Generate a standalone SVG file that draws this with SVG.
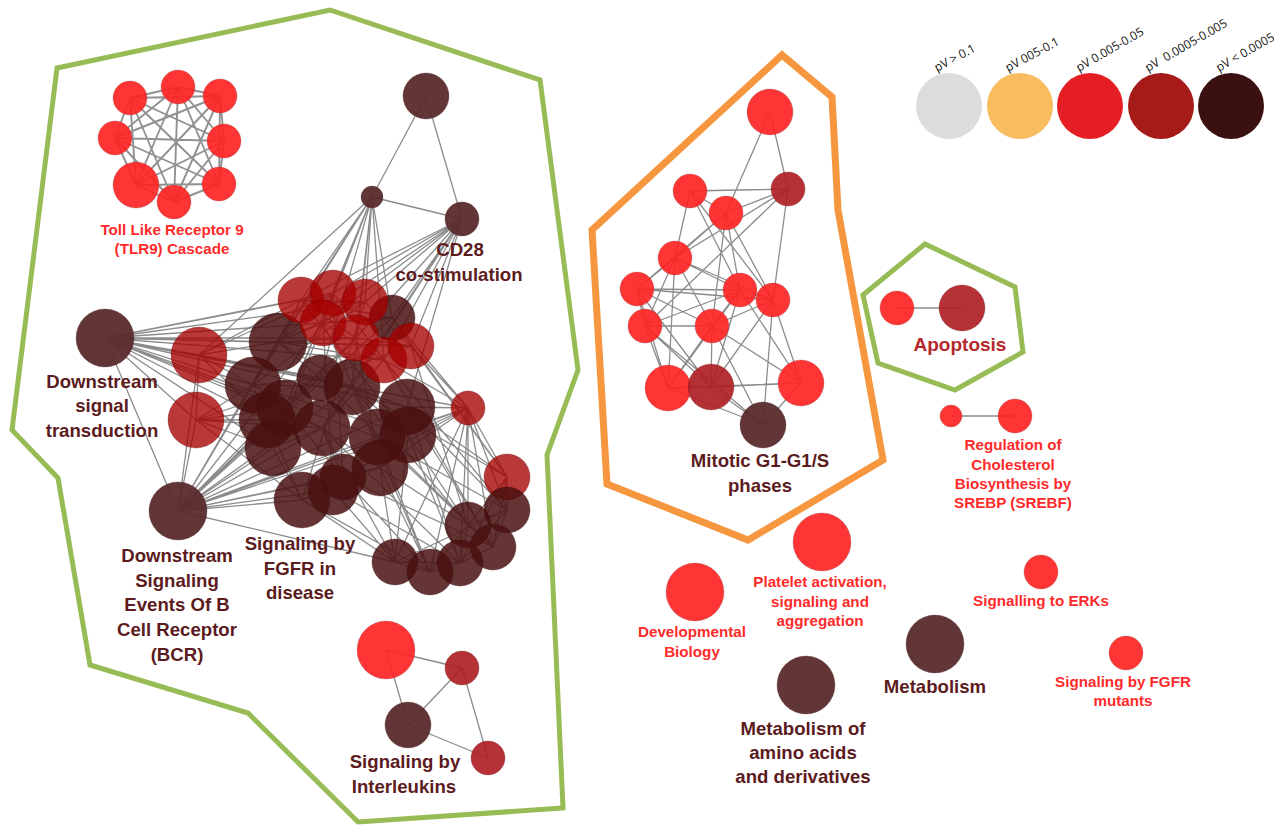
<svg xmlns="http://www.w3.org/2000/svg" width="1283" height="826" viewBox="0 0 1283 826">
<style>
  .bg{fill:#ffffff}
  .hull-g{fill:none;stroke:#98bc55;stroke-width:5;stroke-linejoin:miter}
  .hull-o{fill:none;stroke:#f6973f;stroke-width:7;stroke-linejoin:miter}
  .e{fill:none;stroke:#808080;stroke-width:1.3;stroke-opacity:.9}
  .e2{fill:none;stroke:#858585;stroke-width:1.9;stroke-opacity:.9}
  circle.hi{fill:#ff2424;fill-opacity:.92;stroke:#8a5050;stroke-width:.6;stroke-opacity:.5}
  circle.md{fill:#b02024;fill-opacity:.92;stroke:#703030;stroke-width:.6;stroke-opacity:.5}
  circle.dk{fill:#5a2b2c;fill-opacity:.95;stroke:#4a2020;stroke-width:.6;stroke-opacity:.5}
  circle.cr{fill:#a50000;fill-opacity:.78;stroke:#600000;stroke-width:.6;stroke-opacity:.5}
  circle.cd{fill:#4a1010;fill-opacity:.85;stroke:#300808;stroke-width:.6;stroke-opacity:.5}
  text{font-family:"Liberation Sans",Arial,sans-serif;font-weight:bold;text-anchor:middle}
  .tr{fill:#ff2a2a;font-size:15.2px}
  .td{fill:#5c1b1d;font-size:18.6px}
  .tm{fill:#b5282b;font-size:19px}
  .lg{font-family:"Open Sans","Liberation Sans",sans-serif;font-weight:normal;font-size:12px;fill:#111;text-anchor:start;white-space:pre}
</style>
<rect class="bg" x="0" y="0" width="1283" height="826"/>

<!-- group outlines -->
<g id="hulls">
  <polygon class="hull-g" points="57,68 330,10 540,80 578,370 547,455 563,808 358,822 248,713 90,665 58,478 12,430"/>
  <polygon class="hull-o" points="782,55 832,97 838,210 883,460 748,540 607,484 592,230"/>
  <polygon class="hull-g" points="925,244 1015,287 1023,352 955,390 878,363 863,295"/>
</g>

<!-- connectors -->
<g id="connectors">
  <!-- TLR9 cascade: every member linked to every other -->
  <path class="e2" d="M178 87L130 98M178 87L220 96M178 87L115 138M178 87L224 141M178 87L136 185M178 87L219 184M178 87L174 202
  M130 98L220 96M130 98L115 138M130 98L224 141M130 98L136 185M130 98L219 184M130 98L174 202
  M220 96L115 138M220 96L224 141M220 96L136 185M220 96L219 184M220 96L174 202
  M115 138L224 141M115 138L136 185M115 138L219 184M115 138L174 202
  M224 141L136 185M224 141L219 184M224 141L174 202
  M136 185L219 184M136 185L174 202M219 184L174 202"/>
  <!-- CD28 -->
  <path class="e" d="M426 96L372 197M426 96L462 219M372 197L462 219"/>
  <!-- Downstream signal transduction fan -->
  <path class="e" d="M105 338L301 300M105 338L333 293M105 338L323 323M105 338L278 342M105 338L253 385M105 338L320 378M105 338L352 387M105 338L285 408M105 338L267 420M105 338L322 428M105 338L407 407M105 338L377 437M105 338L199 355M105 338L356 338M105 338L392 318M105 338L408 435M105 338L273 448M105 338L178 511M105 338L365 302M105 338L384 360M105 338L411 346M105 338L196 420"/>
  <!-- BCR fan -->
  <path class="e" d="M178 511L199 355M178 511L196 420M178 511L278 342M178 511L253 385M178 511L320 378M178 511L352 387M178 511L285 408M178 511L267 420M178 511L322 428M178 511L273 448M178 511L407 407M178 511L377 437M178 511L408 435M178 511L380 468M178 511L343 477M178 511L302 500M178 511L333 490M178 511L323 323M178 511L356 338M178 511L392 318M178 511L468 408M178 511L301 300M178 511L395 562"/>
  <!-- CD28 fans into the core -->
  <path class="e" d="M372 197L301 300M372 197L333 293M372 197L365 302M372 197L323 323M372 197L356 338M372 197L392 318M372 197L278 342M372 197L320 378M372 197L253 385M372 197L384 360M372 197L352 387M372 197L285 408M372 197L199 355
  M462 219L333 293M462 219L365 302M462 219L356 338M462 219L384 360M462 219L411 346M462 219L392 318M462 219L278 342M462 219L320 378M462 219L352 387M462 219L323 323M462 219L407 407M462 219L301 300M462 219L322 428"/>
  <!-- P1 fan -->
  <path class="e" d="M468 408L507 477M468 408L507 510M468 408L468 525M468 408L493 547M468 408L395 562M468 408L430 572M468 408L460 563M468 408L411 346M468 408L384 360M468 408L407 407M468 408L408 435M468 408L377 437M468 408L380 468M468 408L392 318M468 408L352 387M468 408L343 477"/>
  <!-- lower right group -->
  <path class="e" d="M507 477L507 510M507 477L468 525M507 510L468 525M507 510L493 547M468 525L493 547M493 547L460 563M395 562L430 572M430 572L460 563M395 562L460 563M468 525L460 563M507 477L493 547M507 477L460 563M507 510L460 563M468 525L430 572M507 510L395 562
  M407 407L507 477M407 407L507 510M408 435L468 525M408 435L395 562M380 468L395 562M380 468L430 572M377 437L507 510M377 437L493 547M352 387L468 525M322 428L395 562M343 477L430 572M333 490L395 562M302 500L395 562M407 407L460 563M408 435L460 563M380 468L468 525M352 387L507 477M320 378L493 547M322 428L460 563M411 346L507 477M384 360L507 510M392 318L507 477M377 437L430 572M343 477L493 547M302 500L430 572M333 490L460 563M411 346L468 525M407 407L493 547M384 360L493 547M352 387L430 572"/>
  <!-- core mesh -->
  <path class="e" d="M278 342L253 385M278 342L320 378M278 342L352 387M278 342L301 300M278 342L333 293M278 342L365 302M278 342L323 323M278 342L356 338M278 342L384 360M278 342L411 346
  M253 385L320 378M253 385L352 387M253 385L285 408M253 385L267 420M320 378L352 387M320 378L285 408M352 387L322 428M285 408L322 428M267 420L273 448M322 428L273 448M322 428L343 477M407 407L377 437M407 407L408 435M377 437L380 468M408 435L380 468M380 468L343 477M343 477L302 500M302 500L333 490M273 448L302 500M267 420L302 500M285 408L343 477M320 378L407 407M352 387L407 407M352 387L408 435M322 428L380 468
  M301 300L365 302M301 300L356 338M333 293L323 323M333 293L384 360M365 302L411 346M323 323L384 360M356 338L411 346M392 318L301 300M392 318L323 323M253 385L365 302M285 408L333 293M267 420L356 338M273 448L323 323M320 378L411 346M322 428L384 360M377 437L323 323M380 468L356 338M408 435L301 300M302 500L365 302M333 490L323 323M343 477L333 293
  M199 355L278 342M199 355L253 385M199 355L301 300M199 355L333 293M199 355L352 387M196 420L253 385M196 420L285 408M196 420L267 420M196 420L273 448M196 420L302 500M196 420L322 428M196 420L320 378M199 355L320 378M199 355L267 420M199 355L196 420"/>
  <!-- Mitotic G1-G1/S -->
  <path class="e" d="M770 112L788 189M770 112L726 213M690 191L788 189M726 213L788 189M690 191L726 213M690 191L675 258M690 191L740 290M690 191L773 300M726 213L675 258M726 213L712 326M726 213L740 290M726 213L773 300M726 213L637 289M788 189L675 258M788 189L773 300M788 189L645 326
  M675 258L637 289M675 258L740 290M675 258L773 300M675 258L645 326M675 258L712 326M675 258L668 388M637 289L740 290M637 289L773 300M637 289L645 326M637 289L712 326M637 289L668 388M637 289L711 387M740 290L773 300M740 290L645 326M740 290L712 326M740 290L668 388M740 290L801 383M740 290L711 387M773 300L801 383M773 300L712 326M773 300L711 387M773 300L763 425
  M645 326L712 326M645 326L668 388M645 326L711 387M712 326L668 388M712 326L711 387M712 326L801 383M712 326L763 425M668 388L711 387M668 388L763 425M711 387L801 383M711 387L763 425M801 383L763 425M645 326L763 425M668 388L801 383"/>
  <!-- Signaling by Interleukins -->
  <path class="e" d="M386 650L462 668M386 650L408 725M408 725L462 668M462 668L488 758M408 725L488 758"/>
  <!-- Apoptosis / cholesterol pairs -->
  <path class="e" d="M897 308L962 308M951 416L1015 416"/>
</g>

<!-- TLR9 cascade -->
<g id="node-tlr9">
  <circle class="hi" cx="178" cy="87" r="17"/>
  <circle class="hi" cx="130" cy="98" r="17"/>
  <circle class="hi" cx="220" cy="96" r="17"/>
  <circle class="hi" cx="115" cy="138" r="17"/>
  <circle class="hi" cx="224" cy="141" r="17"/>
  <circle class="hi" cx="136" cy="185" r="23"/>
  <circle class="hi" cx="219" cy="184" r="17"/>
  <circle class="hi" cx="174" cy="202" r="17"/>
  <text class="tr" x="172" y="235">Toll Like Receptor 9</text>
  <text class="tr" x="172" y="254">(TLR9) Cascade</text>
</g>

<g id="node-cd28">
  <circle class="dk" cx="426" cy="96" r="23"/>
  <circle class="dk" cx="372" cy="197" r="11"/>
  <circle class="dk" cx="462" cy="219" r="17"/>
  <text class="td" x="460" y="256">CD28</text>
  <text class="td" x="459" y="281">co-stimulation</text>
</g>

<g id="node-dst">
  <circle class="dk" cx="105" cy="338" r="29"/>
  <text class="td" x="102" y="388">Downstream</text>
  <text class="td" x="102" y="412">signal</text>
  <text class="td" x="102" y="437">transduction</text>
</g>

<g id="node-bcr">
  <circle class="dk" cx="178" cy="511" r="29"/>
  <text class="td" x="177" y="562">Downstream</text>
  <text class="td" x="177" y="587">Signaling</text>
  <text class="td" x="177" y="611">Events Of B</text>
  <text class="td" x="177" y="636">Cell Receptor</text>
  <text class="td" x="177" y="661">(BCR)</text>
</g>

<!-- FGFR core -->
<g id="node-fgfr">
  <circle class="cr" cx="199" cy="355" r="28"/>
  <circle class="cr" cx="196" cy="420" r="28"/>
  <circle class="cd" cx="278" cy="342" r="29"/>
  <circle class="cd" cx="253" cy="385" r="28"/>
  <circle class="cd" cx="320" cy="378" r="23"/>
  <circle class="cd" cx="352" cy="387" r="28"/>
  <circle class="cd" cx="285" cy="408" r="28"/>
  <circle class="cd" cx="267" cy="420" r="28"/>
  <circle class="cd" cx="322" cy="428" r="28"/>
  <circle class="cd" cx="273" cy="448" r="28"/>
  <circle class="cd" cx="407" cy="407" r="28"/>
  <circle class="cd" cx="377" cy="437" r="28"/>
  <circle class="cd" cx="408" cy="435" r="28"/>
  <circle class="cd" cx="380" cy="468" r="28"/>
  <circle class="cd" cx="343" cy="477" r="23"/>
  <circle class="cd" cx="302" cy="500" r="28"/>
  <circle class="cd" cx="333" cy="490" r="25"/>
  <circle class="cd" cx="392" cy="318" r="23"/>
  <circle class="cr" cx="301" cy="300" r="23"/>
  <circle class="cr" cx="333" cy="293" r="23"/>
  <circle class="cr" cx="365" cy="302" r="23"/>
  <circle class="cr" cx="323" cy="323" r="23"/>
  <circle class="cr" cx="356" cy="338" r="23"/>
  <circle class="cr" cx="384" cy="360" r="23"/>
  <circle class="cr" cx="411" cy="346" r="23"/>
  <circle class="cr" cx="468" cy="408" r="17"/>
  <circle class="cr" cx="507" cy="477" r="23"/>
  <circle class="cd" cx="507" cy="510" r="23"/>
  <circle class="cd" cx="468" cy="525" r="23"/>
  <circle class="cd" cx="493" cy="547" r="23"/>
  <circle class="cd" cx="395" cy="562" r="23"/>
  <circle class="cd" cx="460" cy="563" r="23"/>
  <circle class="cd" cx="430" cy="572" r="23"/>
  <text class="td" x="300" y="550">Signaling by</text>
  <text class="td" x="300" y="575">FGFR in</text>
  <text class="td" x="300" y="599">disease</text>
</g>

<g id="node-interleukins">
  <circle class="hi" cx="386" cy="650" r="29"/>
  <circle class="md" cx="462" cy="668" r="17"/>
  <circle class="dk" cx="408" cy="725" r="23"/>
  <circle class="md" cx="488" cy="758" r="17"/>
  <text class="td" x="405" y="768">Signaling by</text>
  <text class="td" x="404" y="793">Interleukins</text>
</g>

<g id="node-mitotic">
  <circle class="hi" cx="770" cy="112" r="23"/>
  <circle class="md" cx="788" cy="189" r="17"/>
  <circle class="hi" cx="690" cy="191" r="17"/>
  <circle class="hi" cx="726" cy="213" r="17"/>
  <circle class="hi" cx="675" cy="258" r="17"/>
  <circle class="hi" cx="637" cy="289" r="17"/>
  <circle class="hi" cx="740" cy="290" r="17"/>
  <circle class="hi" cx="773" cy="300" r="17"/>
  <circle class="hi" cx="645" cy="326" r="17"/>
  <circle class="hi" cx="712" cy="326" r="17"/>
  <circle class="hi" cx="668" cy="388" r="23"/>
  <circle class="md" cx="711" cy="387" r="23"/>
  <circle class="hi" cx="801" cy="383" r="23"/>
  <circle class="dk" cx="763" cy="425" r="23"/>
  <text class="td" x="760" y="467">Mitotic G1-G1/S</text>
  <text class="td" x="760" y="492">phases</text>
</g>

<g id="node-apoptosis">
  <circle class="hi" cx="897" cy="308" r="17"/>
  <circle class="md" cx="962" cy="308" r="23"/>
  <text class="tm" x="960" y="351">Apoptosis</text>
</g>

<g id="node-cholesterol">
  <circle class="hi" cx="951" cy="416" r="11"/>
  <circle class="hi" cx="1015" cy="416" r="17"/>
  <text class="tr" x="1013" y="450">Regulation of</text>
  <text class="tr" x="1013" y="470">Cholesterol</text>
  <text class="tr" x="1013" y="489">Biosynthesis by</text>
  <text class="tr" x="1013" y="508">SREBP (SREBF)</text>
</g>

<g id="node-platelet">
  <circle class="hi" cx="822" cy="542" r="29"/>
  <text class="tr" x="820" y="587">Platelet activation,</text>
  <text class="tr" x="820" y="607">signaling and</text>
  <text class="tr" x="820" y="626">aggregation</text>
</g>

<g id="node-devbio">
  <circle class="hi" cx="695" cy="592" r="29"/>
  <text class="tr" x="692" y="637">Developmental</text>
  <text class="tr" x="692" y="657">Biology</text>
</g>

<g id="node-metabolism">
  <circle class="dk" cx="935" cy="644" r="29"/>
  <text class="td" x="935" y="693">Metabolism</text>
</g>

<g id="node-aminoacids">
  <circle class="dk" cx="806" cy="685" r="29"/>
  <text class="td" x="803" y="735">Metabolism of</text>
  <text class="td" x="803" y="759">amino acids</text>
  <text class="td" x="803" y="783">and derivatives</text>
</g>

<g id="node-erks">
  <circle class="hi" cx="1041" cy="572" r="17"/>
  <text class="tr" x="1041" y="606">Signalling to ERKs</text>
</g>

<g id="node-fgfr-mutants">
  <circle class="hi" cx="1126" cy="653" r="17"/>
  <text class="tr" x="1123" y="687">Signaling by FGFR</text>
  <text class="tr" x="1123" y="706">mutants</text>
</g>

<!-- p-value colour key -->
<g id="legend">
  <circle cx="949" cy="106" r="33" fill="#dcdcdc"/>
  <circle cx="1020" cy="106" r="33" fill="#f9bc5f"/>
  <circle cx="1090" cy="106" r="33" fill="#e41e22"/>
  <circle cx="1161" cy="106" r="33" fill="#a61a17"/>
  <circle cx="1231" cy="106" r="33" fill="#3a1010"/>
  <text class="lg" transform="translate(937,72) rotate(-28)">pV &gt; 0.1</text>
  <text class="lg" transform="translate(1008,72) rotate(-28)">pV 005-0.1</text>
  <text class="lg" transform="translate(1079,72) rotate(-30)">pV 0.005-0.05</text>
  <text class="lg" transform="translate(1148,72) rotate(-30)" xml:space="preserve">pV  0.0005-0.005</text>
  <text class="lg" transform="translate(1219,72) rotate(-30)">pV &lt; 0.0005</text>
</g>
</svg>
